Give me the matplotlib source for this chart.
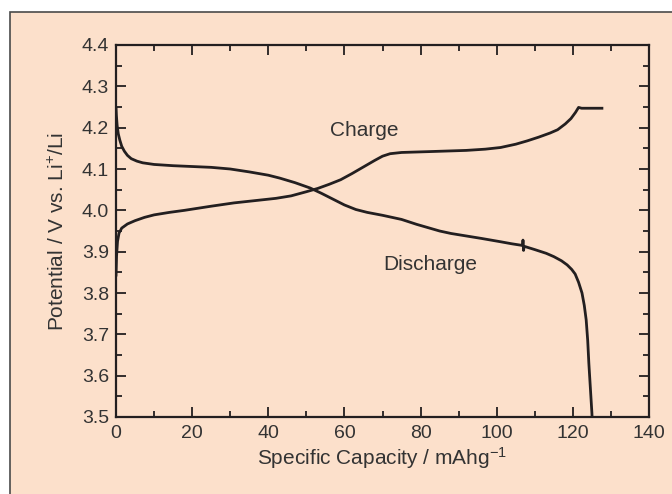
import matplotlib
matplotlib.use("Agg")
import matplotlib.pyplot as plt
from matplotlib.patches import Rectangle
from matplotlib.ticker import MultipleLocator, FormatStrFormatter

# --- Data --------------------------------------------------------------------

charge_x = [0, 0.15, 0.4, 0.8, 1.5, 3, 5, 7.5, 10, 14, 18, 25, 31, 37, 42,
            46, 50, 53, 56, 59, 62, 65, 68, 70, 72, 75, 82, 92, 97, 101, 105,
            108, 111, 114, 116, 118, 119.5, 120.7, 121.5, 122.3, 128]
charge_v = [3.84, 3.89, 3.925, 3.945, 3.957, 3.967, 3.975, 3.983, 3.989,
            3.995, 4.0, 4.01, 4.018, 4.024, 4.029, 4.035, 4.045, 4.053, 4.063,
            4.074, 4.089, 4.105, 4.121, 4.131, 4.137, 4.140, 4.142, 4.145,
            4.148, 4.152, 4.160, 4.168, 4.177, 4.187, 4.195, 4.209, 4.222,
            4.237, 4.249, 4.247, 4.247]

discharge_x = [0, 0.1, 0.3, 0.6, 1, 1.5, 2.2, 3, 4, 5.5, 7, 10, 15, 20, 25,
               30, 35, 40, 43, 47, 51, 54, 57, 60, 63, 66, 70, 75, 79, 82, 85,
               88, 92, 96, 101, 104, 106.8, 106.9, 107.05, 107.2, 110, 113,
               115, 117, 118.5, 119.7, 120.6, 121.5, 122.4, 123, 123.5, 123.9,
               124.2, 124.6, 125, 125.3]
discharge_v = [4.25, 4.23, 4.205, 4.185, 4.17, 4.155, 4.143, 4.133, 4.125,
               4.119, 4.115, 4.111, 4.108, 4.106, 4.104, 4.10, 4.093, 4.085,
               4.078, 4.067, 4.054, 4.041, 4.027, 4.013, 4.002, 3.995, 3.988,
               3.978, 3.966, 3.958, 3.950, 3.944, 3.938, 3.932, 3.924, 3.919,
               3.915, 3.928, 3.903, 3.913, 3.905, 3.896, 3.888, 3.878, 3.868,
               3.857, 3.846, 3.826, 3.80, 3.77, 3.735, 3.685, 3.63, 3.57, 3.51,
               3.45]

# --- Style -------------------------------------------------------------------

BG = "#FCE0CB"
INK = "#231F20"
FRAME = "#4A4A4A"
TEXT = "#333333"

plt.rcParams["font.family"] = ["Liberation Sans", "DejaVu Sans"]
plt.rcParams["mathtext.fontset"] = "custom"
plt.rcParams["mathtext.rm"] = "Liberation Sans"
plt.rcParams["mathtext.it"] = "Liberation Sans"

fig = plt.figure(figsize=(6.72, 4.94), dpi=100, facecolor="white")
frame = Rectangle((10 / 672, -0.2), 1.2, 1.2 - 12 / 494,
                  transform=fig.transFigure, facecolor=BG,
                  edgecolor=FRAME, linewidth=1.2, zorder=-10)
fig.add_artist(frame)

ax = fig.add_axes([116 / 672, 1 - 417 / 494, 533 / 672, 372 / 494])
ax.set_zorder(1)
ax.set_facecolor(BG)

ax.plot(charge_x, charge_v, color=INK, linewidth=2.0, solid_capstyle="butt")
ax.plot(discharge_x, discharge_v, color=INK, linewidth=2.0,
        solid_capstyle="butt")

ax.set_xlim(0, 140)
ax.set_ylim(3.5, 4.4)
ax.xaxis.set_major_locator(MultipleLocator(20))
ax.xaxis.set_minor_locator(MultipleLocator(10))
ax.yaxis.set_major_locator(MultipleLocator(0.1))
ax.yaxis.set_minor_locator(MultipleLocator(0.05))
ax.yaxis.set_major_formatter(FormatStrFormatter("%.1f"))

ax.tick_params(which="both", direction="in", top=True, right=True,
               colors=INK, width=1.3)
ax.tick_params(which="major", length=7, labelsize=14, labelcolor=TEXT)
ax.tick_params(axis="x", which="major", pad=6)
ax.tick_params(axis="y", which="major", pad=5)
ax.tick_params(which="minor", length=4)
for spine in ax.spines.values():
    spine.set_color(INK)
    spine.set_linewidth(1.6)

ax.set_xlabel("Specific Capacity / mAhg$^{-1}$", fontsize=15,
              color=TEXT, labelpad=2)
ax.set_ylabel("Potential / V vs. Li$^{+}$/Li", fontsize=15,
              color=TEXT, labelpad=10)

ax.text(56.2, 4.194, "Charge", fontsize=15, color=TEXT,
        ha="left", va="center")
ax.text(70.1, 3.868, "Discharge", fontsize=15, color=TEXT,
        ha="left", va="center")

fig.savefig("out.png", dpi=100, facecolor="white")
